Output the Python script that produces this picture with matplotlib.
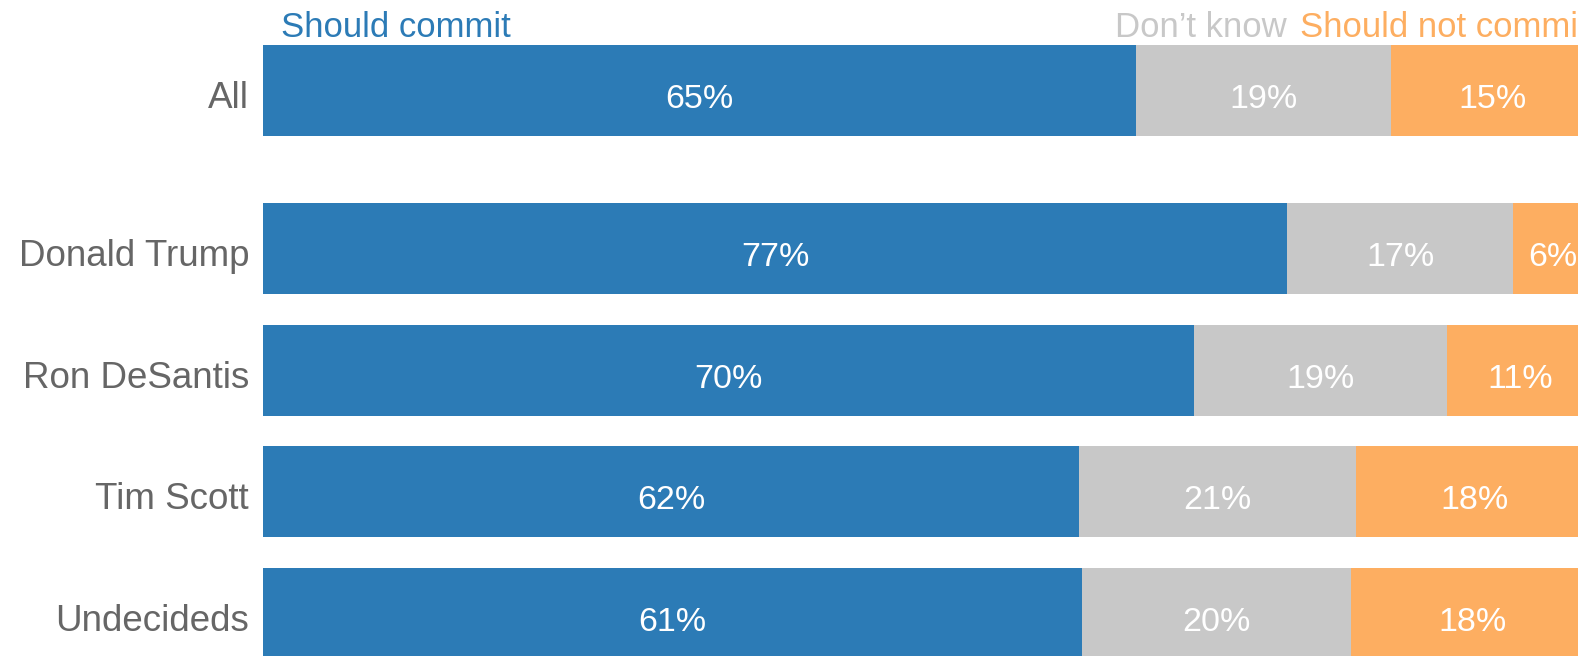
import numpy as np
from matplotlib import pyplot as plt

plt.rcParams["font.family"] = ["Liberation Sans", "DejaVu Sans"]

groups = ["All", "Donald Trump", "Ron DeSantis", "Tim Scott", "Undecideds"]
should_commit = [65, 77, 70, 62, 61]
dont_know = [19, 17, 19, 21, 20]
should_not_commit = [15, 6, 11, 18, 18]

series_names = ["Should commit", "Don\u2019t know", "Should not commit"]
series_colors = ["#2c7bb6", "#c8c8c8", "#fdae61"]

values = np.array([should_commit, dont_know, should_not_commit], dtype=float)
shares = values / values.sum(axis=0) * 100  # bars are stacked to 100%

idx = np.arange(len(groups))
y = idx + np.where(idx > 0, 0.3, 0.0)  # extra gap below "All"
height = 0.75

fig = plt.figure(figsize=(15.78, 6.56), dpi=100)
ax = fig.add_axes([263 / 1578, 0, 1330 / 1578, 1])

left = np.zeros(len(groups))
for share, vals, color in zip(shares, values, series_colors):
    bars = ax.barh(y, share, height, left=left, color=color, linewidth=0)
    for rect, v in zip(bars, vals):
        ax.annotate("{:.0f}%".format(v),
                    xy=(rect.get_x() + rect.get_width() / 2, rect.get_y() + rect.get_height() / 2),
                    xytext=(0, -12.6), textcoords="offset points",
                    ha="center", va="baseline", color="white", fontsize=24.5)
    left += share

# group labels on the left
for g, yy in zip(groups, y):
    ax.annotate(g, xy=(0, yy), xytext=(-10, -12.6), textcoords="offset points",
                ha="right", va="baseline", color="#666666", fontsize=26.5)

# series names above the first bar
top = y[0] - height / 2
ax.annotate(series_names[0], xy=(0, top), xytext=(13, 5.5), textcoords="offset points",
            ha="left", va="baseline", color=series_colors[0], fontsize=25)
t_not = ax.annotate(series_names[2], xy=(100, top), xytext=(-4, 5.5), textcoords="offset points",
                    ha="right", va="baseline", color=series_colors[2], fontsize=25)
ax.annotate(series_names[1], xy=(0, 0), xycoords=t_not, xytext=(-9.5, 0), textcoords="offset points",
            ha="right", va="bottom", color=series_colors[1], fontsize=25)

ax.set_xlim(0, 100)
ax.set_ylim(y[-1] + 0.35, y[0] - 0.746)
ax.set_axis_off()

fig.savefig("out.png", dpi=100)
